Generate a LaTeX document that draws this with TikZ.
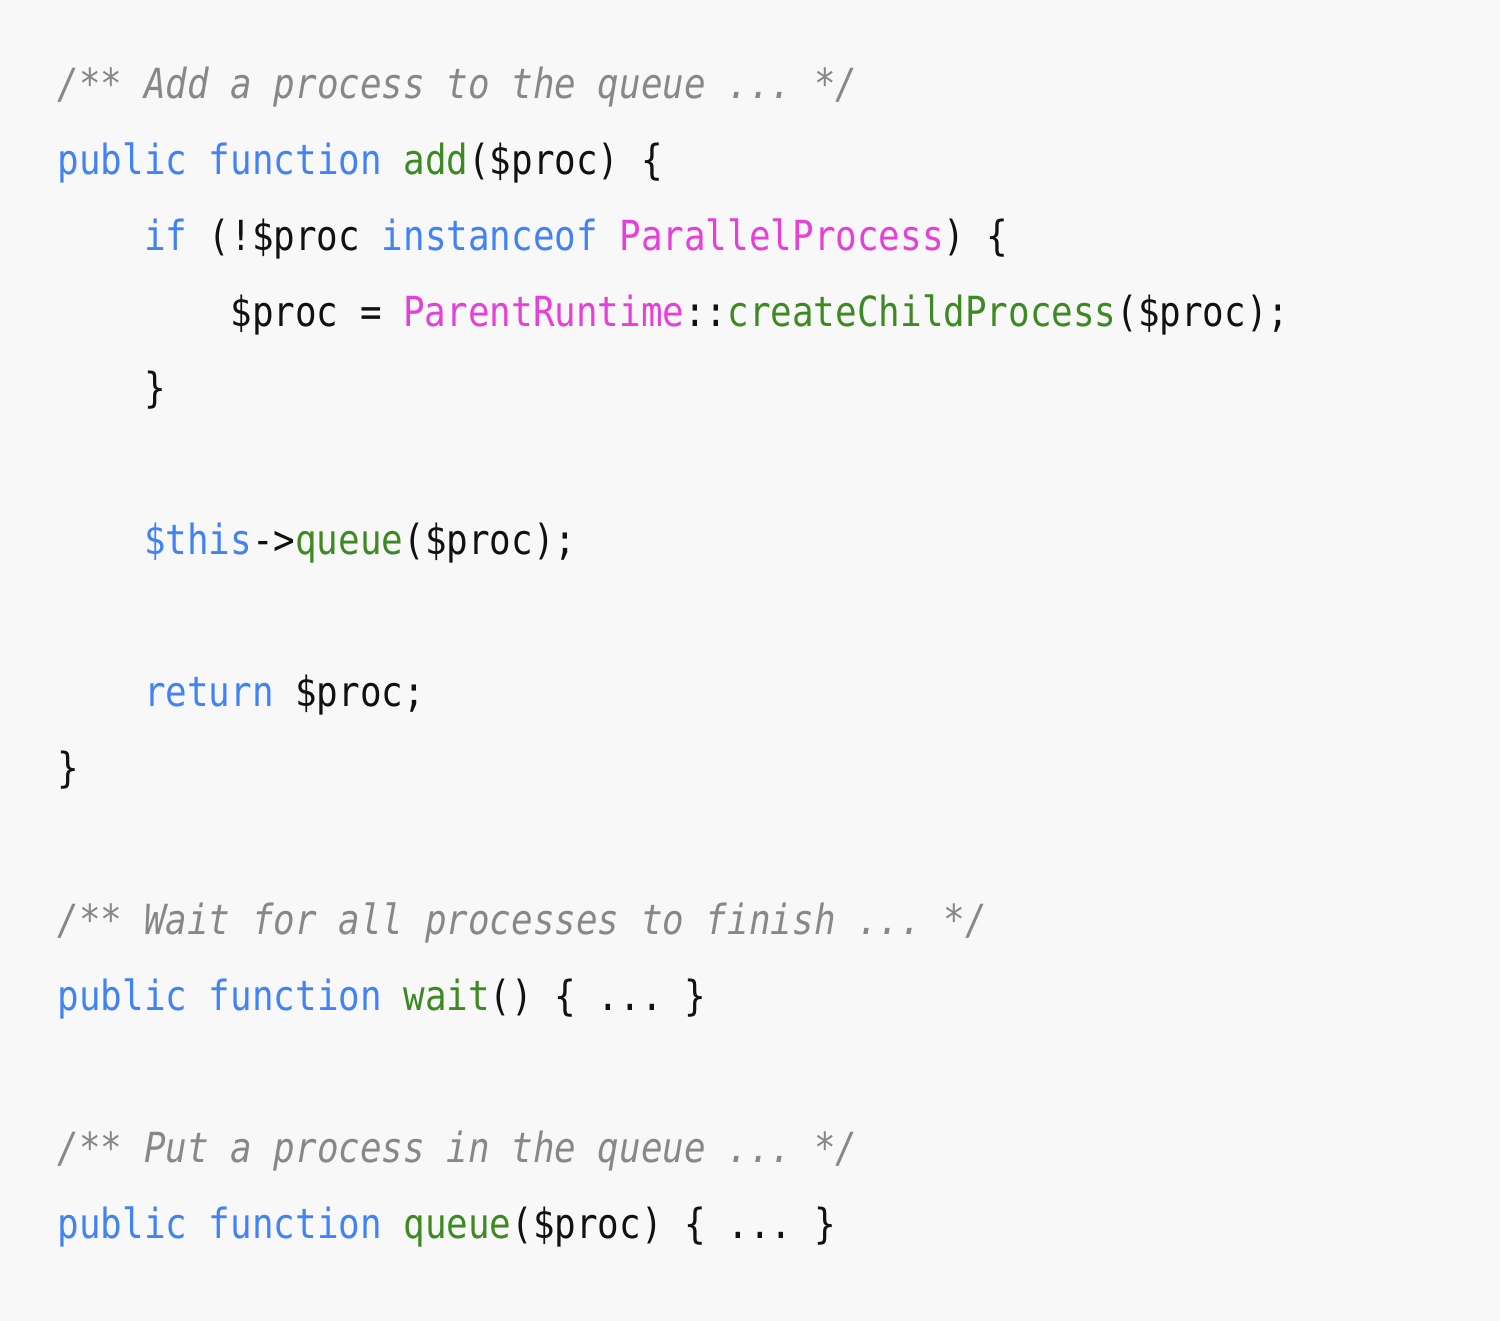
\documentclass[tikz,border=0pt]{standalone}
\usepackage{fontspec}
\setmonofont[FakeStretch=0.865]{DejaVu Sans Mono}
\definecolor{bgcol}{HTML}{F8F8F8}
\definecolor{kwblue}{HTML}{4183F4}
\definecolor{fngreen}{HTML}{3D8A22}
\definecolor{clspink}{HTML}{E540D8}
\definecolor{cmtgray}{HTML}{888888}
\definecolor{codeblack}{HTML}{111111}
\newcommand{\kw}[1]{\textcolor{kwblue}{#1}}
\newcommand{\fn}[1]{\textcolor{fngreen}{#1}}
\newcommand{\cls}[1]{\textcolor{clspink}{#1}}
\newcommand{\cmt}[1]{\textcolor{cmtgray}{\itshape #1}}
\begin{document}
\begin{tikzpicture}[x=0.01cm,y=-0.01cm,
    code/.style={anchor=base west,inner sep=0,text=codeblack,font=\ttfamily\fontsize{11.8}{14}\selectfont}]
    \fill[bgcol] (0,0) rectangle (1500,1321);
    % add()
    \node (add-doc) at (57,98) [code] {\cmt{/** Add a process to the queue ... */}};
    \node (add-head) at (57,174) [code] {\kw{public function} \fn{add}(\$proc) \{};
    \node (add-if) at (143.4,250) [code] {\kw{if} (!\$proc \kw{instanceof} \cls{ParallelProcess}) \{};
    \node (add-wrap) at (229.8,326) [code] {\$proc = \cls{ParentRuntime}::\fn{createChildProcess}(\$proc);};
    \node (add-endif) at (143.4,402) [code] {\}};
    \node (add-queue) at (143.4,554) [code] {\kw{\$this}->\fn{queue}(\$proc);};
    \node (add-ret) at (143.4,706) [code] {\kw{return} \$proc;};
    \node (add-end) at (57,782) [code] {\}};
    % wait()
    \node (wait-doc) at (57,934) [code] {\cmt{/** Wait for all processes to finish ... */}};
    \node (wait-head) at (57,1010) [code] {\kw{public function} \fn{wait}() \{ ... \}};
    % queue()
    \node (queue-doc) at (57,1162) [code] {\cmt{/** Put a process in the queue ... */}};
    \node (queue-head) at (57,1238) [code] {\kw{public function} \fn{queue}(\$proc) \{ ... \}};
\end{tikzpicture}
\end{document}
